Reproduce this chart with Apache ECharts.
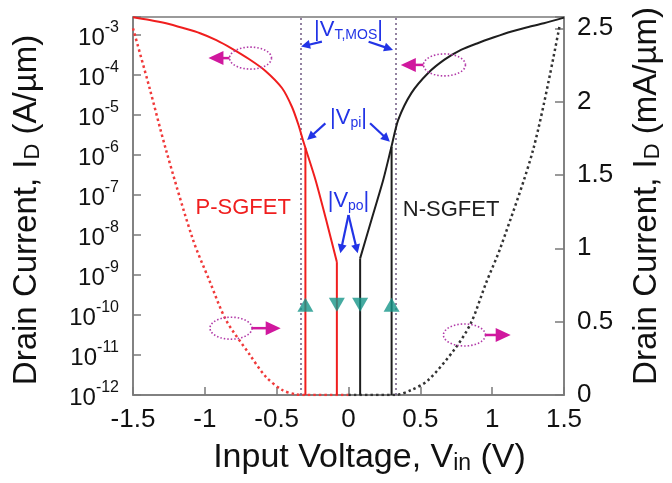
<!DOCTYPE html>
<html><head><meta charset="utf-8">
<script src="https://cdn.jsdelivr.net/npm/echarts@6/dist/echarts.min.js"></script>
<style>html,body{margin:0;padding:0;background:#fff}#c{width:672px;height:483px}</style>
</head><body><div id="c"></div>
<script>
// ---------------- data ----------------
// P-SGFET, log drain current (A/um)
const pV = [-1.5, -1.384, -1.27, -1.15, -1.033, -0.92, -0.809, -0.693, -0.578, -0.463, -0.394, -0.348, -0.313, -0.23, -0.15, -0.081];
const pI = [2.77e-3, 2.37e-3, 1.95e-3, 1.48e-3, 1.10e-3, 7.4e-4, 4.5e-4, 2.5e-4, 1.26e-4, 4.7e-5, 1.6e-5, 5.6e-6, 2.1e-6, 2.4e-7, 2.0e-8, 2.1e-9];
// N-SGFET, log drain current (A/um)
const nV = [0.081, 0.16, 0.242, 0.299, 0.346, 0.4375, 0.553, 0.668, 0.783, 0.899, 1.013, 1.129, 1.245, 1.36, 1.5];
const nI = [2.6e-9, 2.4e-8, 2.4e-7, 1.6e-6, 7.5e-6, 3.5e-5, 1.1e-4, 2.4e-4, 4.2e-4, 6.2e-4, 8.7e-4, 1.2e-3, 1.55e-3, 1.95e-3, 2.7e-3];
// linear drain current (mA/um)
const pLinV = [-1.5, -1.384, -1.27, -1.083, -0.968, -0.852, -0.691, -0.576, -0.461, -0.37, -0.3, 0];
const pLinI = [2.5, 2.09, 1.67, 1.06, 0.78, 0.51, 0.28, 0.125, 0.034, 0.005, 0, 0];
const nLinV = [0, 0.32, 0.4375, 0.553, 0.737, 0.852, 0.956, 1.06, 1.29, 1.47];
const nLinI = [0, 0, 0.034, 0.10, 0.31, 0.49, 0.76, 1.01, 1.69, 2.52];
// hysteresis switching lines: [V, lower I, upper I]
const pSwitchV = [-0.30, -0.081];
const pSwitchTop = [1.5e-6, 2.1e-9];
const nSwitchV = [0.081, 0.30];
const nSwitchTop = [2.6e-9, 1.6e-6];
const floorI = 1e-12;
// switching direction markers
const upV = [-0.30, 0.30];
const downV = [-0.081, 0.081];
const markerI = 1.8e-10;
// |V_T,MOS| reference lines
const vtmosV = [-0.325, 0.325];
// axis tick values
const xTicks = [-1.5, -1, -0.5, 0, 0.5, 1, 1.5];
const rightTicks = [0, 0.5, 1, 1.5, 2, 2.5];

const FONT = '"Liberation Sans", Arial, Helvetica, sans-serif';
const RED = '#f01e1e', BLACK = '#1e1e1e', BLUE = '#2234e6', MAG = '#d0189e', ELL = '#b23aa8', TEAL = '#16968a', AX = '#7a7a7a';

const zip = (a, b) => a.map((v, i) => [v, b[i]]);

const chart = echarts.init(document.getElementById('c'), null, {renderer: 'canvas'});

function logLabel(v) {
  const l = Math.log10(v), e = Math.round(l);
  if (Math.abs(l - e) > 0.02) return '';
  return '{b|10}{s|' + e + '}';
}

const option = {
  animation: false,
  backgroundColor: '#fff',
  grid: {left: 133, right: 105, top: 17, bottom: 88, show: true, borderColor: AX, borderWidth: 1.5, backgroundColor: 'transparent'},
  xAxis: {
    type: 'value', min: -1.5, max: 1.5, interval: 0.5,
    axisLine: {show: true, onZero: false, lineStyle: {color: AX, width: 1.5}},
    axisTick: {show: true, inside: true, length: 8, lineStyle: {color: AX, width: 1.5}},
    splitLine: {show: false},
    axisLabel: {margin: 12, fontSize: 26, fontFamily: FONT, color: '#111',
      formatter: v => xTicks.some(t => Math.abs(t - v) < 1e-9) ? String(v) : ''},
    name: 'Input Voltage, V{sub|in} (V)', nameLocation: 'middle', nameGap: 45,
    nameTextStyle: {fontSize: 34, fontFamily: FONT, color: '#111', lineHeight: 35, padding: [0, 0, 0, 42],
      rich: {sub: {fontSize: 23, fontFamily: FONT, color: '#111', lineHeight: 23, verticalAlign: 'bottom'}}}
  },
  yAxis: [{
    type: 'log', logBase: 10, min: 1e-12, max: 2.8e-3, position: 'left',
    axisLine: {show: true, onZero: false, lineStyle: {color: AX, width: 1.5}},
    axisTick: {show: true, inside: true, length: 8, lineStyle: {color: AX, width: 1.5}},
    minorTick: {show: false}, splitLine: {show: false},
    axisLabel: {margin: 14, formatter: logLabel, color: '#111',
      rich: {b: {fontSize: 24, fontFamily: FONT, color: '#111', lineHeight: 30, verticalAlign: 'bottom'},
             s: {fontSize: 16, fontFamily: FONT, color: '#111', lineHeight: 18, verticalAlign: 'top'}}},
    name: 'Drain Current, I{sub|D} (A/µm)', nameLocation: 'middle', nameRotate: 90, nameGap: 89,
    nameTextStyle: {fontSize: 33, fontFamily: FONT, color: '#111', lineHeight: 34, padding: [0, 8, 0, 0],
      rich: {sub: {fontSize: 22, fontFamily: FONT, color: '#111', lineHeight: 22, verticalAlign: 'bottom'}}}
  }, {
    type: 'value', min: 0, max: 2.577, interval: 0.5, position: 'right',
    axisLine: {show: true, onZero: false, lineStyle: {color: AX, width: 1.5}},
    axisTick: {show: true, inside: true, length: 9, lineStyle: {color: AX, width: 1.5}},
    splitLine: {show: false},
    axisLabel: {margin: 13, fontSize: 26, fontFamily: FONT, color: '#111',
      formatter: v => rightTicks.some(t => Math.abs(t - v) < 1e-9) ? String(v) : ''},
    name: 'Drain Current, I{sub|D} (mA/µm)', nameLocation: 'middle', nameRotate: 90, nameGap: 66,
    nameTextStyle: {fontSize: 33, fontFamily: FONT, color: '#111', lineHeight: 34, padding: [0, 0, 0, 20],
      rich: {sub: {fontSize: 22, fontFamily: FONT, color: '#111', lineHeight: 22, verticalAlign: 'bottom'}}}
  }],
  series: [
    {type: 'line', name: 'P log', xAxisIndex: 0, yAxisIndex: 0, data: zip(pV, pI), smooth: 0.25, showSymbol: false, symbol: 'none',
      lineStyle: {color: RED, width: 2}, z: 5,
      markLine: {silent: true, symbol: 'none', label: {show: false},
        lineStyle: {color: '#6f5a82', type: [2, 3], width: 1.5},
        data: vtmosV.map(v => ({xAxis: v}))}},
    {type: 'line', name: 'N log', xAxisIndex: 0, yAxisIndex: 0, data: zip(nV, nI), smooth: 0.25, showSymbol: false, symbol: 'none',
      lineStyle: {color: BLACK, width: 2}, z: 5},
    ...pSwitchV.map((v, i) => ({type: 'line', xAxisIndex: 0, yAxisIndex: 0, data: [[v, floorI], [v, pSwitchTop[i]]],
      showSymbol: false, symbol: 'none', lineStyle: {color: RED, width: 2}, z: 5})),
    ...nSwitchV.map((v, i) => ({type: 'line', xAxisIndex: 0, yAxisIndex: 0, data: [[v, floorI], [v, nSwitchTop[i]]],
      showSymbol: false, symbol: 'none', lineStyle: {color: BLACK, width: 2}, z: 5})),
    {type: 'line', name: 'P lin', xAxisIndex: 0, yAxisIndex: 1, data: zip(pLinV, pLinI), smooth: 0.3, showSymbol: false, symbol: 'none',
      lineStyle: {color: '#f03a3a', width: 2.5, type: [2.5, 3]}, z: 4},
    {type: 'line', name: 'N lin', xAxisIndex: 0, yAxisIndex: 1, data: zip(nLinV, nLinI), smooth: 0.3, showSymbol: false, symbol: 'none',
      lineStyle: {color: '#333', width: 2.5, type: [2.5, 3]}, z: 4},
    {type: 'scatter', xAxisIndex: 0, yAxisIndex: 0, data: upV.map(v => [v, markerI]), symbol: 'triangle', symbolSize: [16, 14],
      itemStyle: {color: TEAL}, z: 8, silent: true},
    {type: 'scatter', xAxisIndex: 0, yAxisIndex: 0, data: downV.map(v => [v, markerI]), symbol: 'triangle', symbolRotate: 180, symbolSize: [16, 14],
      itemStyle: {color: TEAL}, z: 8, silent: true}
  ]
};
chart.setOption(option);

// ---------------- annotations placed through the axes' scales ----------------
const P = (v, L) => chart.convertToPixel({xAxisIndex: 0, yAxisIndex: 0}, [v, Math.pow(10, L)]);

function arrow(a, b, color, w, hl, hw) {
  const [x1, y1] = a, [x2, y2] = b;
  const dx = x2 - x1, dy = y2 - y1, len = Math.hypot(dx, dy), ux = dx / len, uy = dy / len;
  const bx = x2 - ux * hl, by = y2 - uy * hl;
  return [
    {type: 'line', silent: true, z: 20, shape: {x1, y1, x2: bx + ux, y2: by + uy}, style: {stroke: color, lineWidth: w}},
    {type: 'polygon', silent: true, z: 20, shape: {points: [[x2, y2], [bx - uy * hw / 2, by + ux * hw / 2], [bx + uy * hw / 2, by - ux * hw / 2]]}, style: {fill: color}}
  ];
}
function ellipse(c, rx, ry) {
  const pts = [];
  for (let i = 0; i <= 60; i++) { const t = i / 60 * 2 * Math.PI; pts.push([c[0] + rx * Math.cos(t), c[1] + ry * Math.sin(t)]); }
  return {type: 'polyline', silent: true, z: 20, shape: {points: pts}, style: {stroke: ELL, lineWidth: 1.6, lineDash: [1.5, 2], fill: null}};
}
function text(p, str, color, size, subSize, extra) {
  return Object.assign({type: 'text', silent: true, z: 21, x: p[0], y: p[1], style: {
    text: str, fill: color, fontSize: size, fontFamily: FONT, align: 'center', verticalAlign: 'middle', lineHeight: size + 2,
    rich: {s: {fill: color, fontSize: subSize, fontFamily: FONT, lineHeight: subSize, verticalAlign: 'bottom'}}}}, extra || {});
}
function magArrow(center, tipV, dir) {
  const c = P(center[0], center[1]);
  const rx = 21, ry = 11;
  const tip = P(tipV, center[1]);
  const start = [c[0] + dir * rx, c[1]];
  return [ellipse(c, rx, ry), ...arrow(start, tip, MAG, 2.5, 15, 14)];
}

const g = [];
// |V_T,MOS|
g.push(text(P(0, -2.875), '|V{s|T,MOS}|', BLUE, 22, 14));
g.push(...arrow(P(-0.185, -3.17), P(-0.33, -3.29), BLUE, 2.2, 9, 9));
g.push(...arrow(P(0.14, -3.17), P(0.31, -3.375), BLUE, 2.2, 9, 9));
// |V_pi|
g.push(text(P(0, -5.075), '|V{s|pi}|', BLUE, 22, 14));
g.push(...arrow(P(-0.161, -5.21), P(-0.288, -5.625), BLUE, 2.2, 9, 9));
g.push(...arrow(P(0.15, -5.21), P(0.288, -5.67), BLUE, 2.2, 9, 9));
// |V_po|
g.push(text(P(0, -7.15), '|V{s|po}|', BLUE, 22, 14));
const apex = P(0, -7.5);
g.push(...arrow(apex, P(-0.057, -8.46), BLUE, 2.2, 9, 9));
g.push(...arrow(apex, P(0.064, -8.46), BLUE, 2.2, 9, 9));
// device labels
g.push(text(P(-0.733, -7.33), 'P-SGFET', RED, 22, 14));
g.push(text(P(0.714, -7.375), 'N-SGFET', BLACK, 22, 14));
// axis-pointing ellipses
g.push(...magArrow([-0.682, -3.58], -0.975, -1));
g.push(...magArrow([0.668, -3.75], 0.364, -1));
g.push(...magArrow([-0.818, -10.33], -0.472, 1));
g.push(...magArrow([0.807, -10.5], 1.129, 1));

chart.setOption({graphic: {elements: g}});
</script>
</body></html>
